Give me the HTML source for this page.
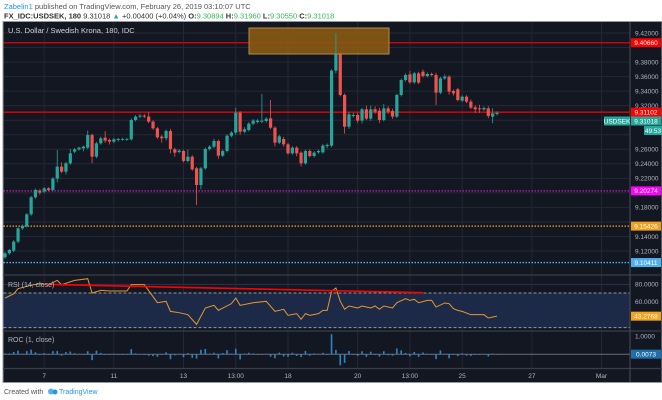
<!DOCTYPE html>
<html><head><meta charset="utf-8">
<style>
html,body{margin:0;padding:0;background:#fff;width:662px;height:400px;overflow:hidden;font-family:"Liberation Sans",sans-serif}
svg{display:block}
</style></head>
<body>
<svg id="chart" width="662" height="400" viewBox="0 0 662 400" xmlns="http://www.w3.org/2000/svg" font-family="Liberation Sans, sans-serif">
  <g>
    <text x="4" y="9" font-size="7.5" fill="#555"><tspan fill="#2196f3">Zabelin1</tspan> published on TradingView.com, February 26, 2019 03:10:07 UTC</text>
    <text x="4" y="18.5" font-size="7.5" font-weight="bold" fill="#333">FX_IDC:USDSEK, 180 <tspan font-weight="normal">9.31018</tspan> <tspan fill="#26a69a">▲</tspan> <tspan font-weight="normal">+0.00400 (+0.04%)</tspan> O:<tspan fill="#2ebd4f" font-weight="normal">9.30894</tspan> H:<tspan fill="#2ebd4f" font-weight="normal">9.31960</tspan> L:<tspan fill="#2ebd4f" font-weight="normal">9.30550</tspan> C:<tspan fill="#2ebd4f" font-weight="normal">9.31018</tspan></text>
  </g>
  <rect x="3" y="21.5" width="659" height="361" fill="#131722" stroke="#9598a1" stroke-width="1"/>
  <g id="grid"></g>
  <rect x="3.5" y="293" width="626.5" height="34.7" fill="#1c2a48"/>
  <g id="hlines"></g>
  <rect x="249" y="28" width="140" height="26" fill="#8a5a12" fill-opacity="0.9" stroke="#b88a4a" stroke-width="1"/>
  <g id="candles"></g>
  <g id="rsi"></g>
  <g id="roc"></g>
  <g id="axes"></g>
  <text x="8" y="33" font-size="7.5" fill="#d1d4dc">U.S. Dollar / Swedish Krona, 180, IDC</text>
  <text x="8" y="287" font-size="7" fill="#b2b5be">RSI (14, close)</text>
  <text x="8" y="342" font-size="7" fill="#b2b5be">ROC (1, close)</text>
  <g>
    <text x="4" y="394" font-size="7" fill="#555">Created with</text>
    <circle cx="51" cy="391.5" r="3" fill="#5ab3e8"/><circle cx="55" cy="392" r="2.5" fill="#2196f3"/>
    <text x="59" y="394" font-size="7" fill="#2196f3">TradingView</text>
  </g>
</svg>
<script>
const opens=[9.1113,9.1168,9.1205,9.1329,9.1512,9.1544,9.1705,9.1939,9.2031,9.2017,9.2063,9.2040,9.2196,9.2361,9.2292,9.2407,9.2567,9.2599,9.2613,9.2622,9.2796,9.2498,9.2682,9.2760,9.2728,9.2705,9.2728,9.2737,9.2737,9.2737,9.3003,9.3049,9.3063,9.3049,9.2980,9.2888,9.2774,9.2751,9.2852,9.2599,9.2563,9.2576,9.2439,9.2498,9.2338,9.2108,9.2338,9.2604,9.2636,9.2714,9.2512,9.2576,9.2787,9.2829,9.3104,9.2842,9.2865,9.2952,9.2975,9.2980,9.2989,9.3026,9.2897,9.2691,9.2741,9.2668,9.2544,9.2622,9.2553,9.2407,9.2576,9.2507,9.2558,9.2558,9.2645,9.2650,9.3682,9.3907,9.3347,9.2911,9.3058,9.3072,9.2994,9.3150,9.3021,9.3150,9.3131,9.3003,9.3163,9.3127,9.3049,9.3347,9.3553,9.3631,9.3521,9.3645,9.3668,9.3608,9.3636,9.3622,9.3379,9.3576,9.3599,9.3402,9.3425,9.3269,9.3324,9.3255,9.3177,9.3163,9.3150,9.3163,9.3049,9.3085];
const closes=[9.1168,9.1214,9.1329,9.1512,9.1544,9.1705,9.1939,9.2040,9.2003,9.2063,9.2040,9.2196,9.2361,9.2292,9.2407,9.2544,9.2599,9.2622,9.2636,9.2796,9.2498,9.2682,9.2751,9.2719,9.2705,9.2737,9.2741,9.2741,9.2741,9.3003,9.3049,9.3063,9.3049,9.2980,9.2888,9.2764,9.2751,9.2852,9.2604,9.2553,9.2581,9.2439,9.2498,9.2324,9.2108,9.2338,9.2604,9.2636,9.2714,9.2512,9.2576,9.2787,9.2829,9.3104,9.2842,9.2875,9.2952,9.2994,9.2994,9.2994,9.3021,9.2897,9.2691,9.2778,9.2668,9.2544,9.2622,9.2544,9.2407,9.2576,9.2507,9.2553,9.2576,9.2650,9.2659,9.3682,9.3907,9.3347,9.2911,9.3081,9.3072,9.2994,9.3150,9.3021,9.3150,9.3118,9.3003,9.3163,9.3118,9.3049,9.3347,9.3553,9.3622,9.3521,9.3645,9.3517,9.3608,9.3636,9.3622,9.3379,9.3576,9.3599,9.3393,9.3370,9.3278,9.3324,9.3255,9.3173,9.3150,9.3150,9.3168,9.3058,9.3094,9.3102];
const wickUp=[20,15,20,15,20,15,20,20,20,15,15,20,230,60,20,60,20,15,15,60,20,20,25,90,20,20,15,15,15,20,20,20,20,60,20,20,20,20,30,20,20,20,100,20,20,20,20,20,30,20,20,20,20,70,20,30,20,20,20,367,20,252,20,20,30,20,20,20,20,20,20,20,20,20,20,20,289,20,20,30,30,30,20,50,50,40,40,60,30,30,20,20,20,50,20,20,30,20,20,30,20,30,20,20,20,20,20,30,30,50,20,30,70,20];
const wickDn=[20,20,20,20,20,20,20,20,30,20,20,20,50,20,40,20,20,20,40,20,90,20,20,30,40,20,20,20,20,20,20,20,20,20,20,20,60,30,60,55,20,20,20,20,275,60,20,20,20,40,20,20,20,30,40,20,20,20,20,20,20,20,50,20,30,20,20,40,40,20,20,20,20,20,30,20,40,20,95,30,20,30,40,20,30,30,40,20,30,30,20,20,20,20,20,20,20,20,20,170,20,20,40,30,20,20,20,20,50,50,20,30,90,20];
const rsiIdx=[0,2,3,6,8,10,12,13,16,19,20,22,24,28,29,32,35,37,38,40,42,44,46,48,49,52,53,54,57,60,62,64,65,67,68,69,70,72,73,74,75,76,77,78,79,81,82,84,85,86,87,89,90,92,93,94,95,97,98,99,101,102,103,104,105,107,110,111,113];
const rsiVal=[64.2,69,75,79,80.8,79.6,84.6,79.6,84.6,86.5,70,73,72.3,72.3,79.6,79.6,58.8,60.4,48.8,47.3,45,33.8,52.7,55.8,50,57.7,64.2,55.8,58.8,60.4,48.8,51.2,44.2,46.2,39.6,46.2,44.2,46.2,50,50,71.9,75.8,60.4,51.2,55,52.7,55,52.7,55,51.2,55,52.7,58.8,63.5,61.5,62.7,58.8,61.5,61.5,53.8,58.5,57.7,51.9,50,48.8,45,45,41.2,43.3];
const rocVal=[0.05,0.05,0.125,0.2,0.035,0.175,0.255,0.11,-0.04,0.065,-0.025,0.17,0.18,-0.075,0.125,0.15,0.06,0.025,0.015,0.17,-0.32,0.2,0.075,-0.035,-0.015,0.035,0.005,0,0,0.28,0.05,0.015,-0.015,-0.075,-0.1,-0.135,-0.015,0.11,-0.27,-0.055,0.03,-0.155,0.065,-0.19,-0.235,0.25,0.29,0.035,0.085,-0.22,0.07,0.23,0.045,0.3,-0.28,0.035,0.085,0.045,0,0,0.03,-0.135,-0.22,0.095,-0.12,-0.135,0.085,-0.085,-0.15,0.18,-0.075,0.05,0.025,0.08,0.01,1.1,0.24,-0.6,-0.47,0.18,-0.01,-0.085,0.17,-0.14,0.14,-0.035,-0.125,0.17,-0.05,-0.075,0.32,0.22,0.075,-0.11,0.13,-0.14,0.1,0.03,-0.015,-0.26,0.21,0.025,-0.22,-0.025,-0.1,0.05,-0.075,-0.09,-0.025,0,0.02,-0.12,0.04,0.01];
const priceTicks=[9.42,9.38,9.36,9.34,9.32,9.30,9.26,9.24,9.22,9.18,9.14,9.12];
const priceGrid=[9.42,9.40,9.38,9.36,9.34,9.32,9.30,9.28,9.26,9.24,9.22,9.20,9.18,9.16,9.14,9.12];
const timeLabels=["7","11","13","13:00","18","20","13:00","25","27","Mar"];
const timeLabelBar=[9,25,41,53,65,81,93,105,121,137];
const levelPrices=[9.40660,9.31102,9.20274,9.15426,9.10411];
const levelColors=["#e00","#e00","#c020c0","#f0a020","#4fb0f0"];
const rsiTrendStart=[9,80];
const rsiTrendEnd=[96,70.4];

const NS="http://www.w3.org/2000/svg";
const PL=3.5, PR=630;
function px(i){return 5+i*4.354;}
function py(p){return 33+(9.42-p)*726.7;}
function ry(v){return 293+(70-v)*0.867;}
function cy(v){return 354.3-v*18.3;}
function mk(tag,attrs,parent){const e=document.createElementNS(NS,tag);for(const k in attrs)e.setAttribute(k,attrs[k]);parent.appendChild(e);return e;}

const grid=document.getElementById('grid');
priceGrid.forEach(p=>{const l=mk('line',{x1:PL,x2:PR,y1:py(p),y2:py(p),stroke:'#242835','stroke-width':1},grid);

});
[80,60,40].forEach(v=>{const l=mk('line',{x1:PL,x2:PR,y1:ry(v),y2:ry(v),stroke:'#2a3550','stroke-width':1},grid);

});
timeLabelBar.forEach(b=>{const x=px(b);const l=mk('line',{x1:x,x2:x,y1:22,y2:368,stroke:'#242835','stroke-width':1},grid);

});

const hl=document.getElementById('hlines');
levelPrices.forEach((p,k)=>{const y=py(p);
const l=mk('line',{x1:PL,x2:PR,y1:y,y2:y,stroke:levelColors[k],'stroke-width':k<2?1.3:1.3,'stroke-dasharray':k<2?'none':'1.5,1.5'},hl);

});

const cg=document.getElementById('candles');
opens.forEach((o,i)=>{const c=closes[i];const up=c>=o;const col=up?'#26a69a':'#ef5350';const x=px(i);
const hi=Math.max(o,c)+wickUp[i]/10000, lo=Math.min(o,c)-wickDn[i]/10000;
const w=mk('line',{x1:x,x2:x,y1:py(hi),y2:py(lo),stroke:col,'stroke-width':0.8},cg);


const t=py(Math.max(o,c)), b=py(Math.min(o,c));
const r=mk('rect',{x:x-1.6,y:t,width:3.2,height:Math.max(0.8,b-t),fill:col},cg);

});

const rg=document.getElementById('rsi');
[70,30].forEach(v=>{const l=mk('line',{x1:PL,x2:PR,y1:ry(v),y2:ry(v),stroke:'#9598a1','stroke-width':1,'stroke-dasharray':'3,2'},rg);

});
const rp=mk('polyline',{points:rsiIdx.map((b,k)=>px(b)+','+ry(rsiVal[k])).join(' '),fill:'none',stroke:'#e8962e','stroke-width':1},rg);


const tl=mk('line',{x1:px(rsiTrendStart[0]),y1:ry(rsiTrendStart[1]),x2:px(rsiTrendEnd[0]),y2:ry(rsiTrendEnd[1]),stroke:'#f00','stroke-width':1.6},rg);



const og=document.getElementById('roc');
const zl=mk('line',{x1:PL,x2:PR,y1:cy(0),y2:cy(0),stroke:'#6a6f7c','stroke-width':1},og);


rocVal.forEach((v,i)=>{const y0=cy(0),y1=cy(v);
const r=mk('rect',{x:px(i)-0.8,y:Math.min(y0,y1),width:1.6,height:Math.max(0.6,Math.abs(y1-y0)),fill:'#2b86c5'},og);

});

const ax=document.getElementById('axes');
[[22,275],[275,331],[331,368.5],[368.5,382]].forEach(s=>{});
[275,331,368.5].forEach(y=>{const l=mk('line',{x1:3,x2:662,y1:y,y2:y,stroke:'#3a3e4a','stroke-width':1.2},ax);

});
const al=mk('line',{x1:PR,x2:PR,y1:22,y2:382,stroke:'#4a4e5a','stroke-width':1},ax);


function txt(x,y,s,attrs,name){const t=mk('text',Object.assign({x:x,y:y,'font-size':6.5,fill:'#b2b5be'},attrs||{}),ax);t.textContent=s;

return t;}
priceTicks.forEach(p=>txt(635,py(p)+2.3,p.toFixed(5),{},'price-tick'));
txt(635,ry(80)+2.3,'80.0000',{},'rsi-tick');
txt(635,ry(60)+2.3,'60.0000',{},'rsi-tick');
txt(635,cy(1)+2.3,'1.0000',{},'roc-tick');
timeLabels.forEach((s,k)=>txt(px(timeLabelBar[k]),378,s,{'text-anchor':'middle'},'time-tick'));
function badge(y,bg,s,fg,name,x,w){const r=mk('rect',{x:x||631,y:y-4.5,width:w||30,height:9,fill:bg},ax);


txt((x||631)+((w||30)/2),y+2.3,s,{fill:fg||'#fff','text-anchor':'middle'},name);}
levelPrices.forEach((p,k)=>badge(py(p),levelColors[k]==='#e00'?'#f00':(levelColors[k]==='#c020c0'?'#f0f':levelColors[k]),p.toFixed(5),'#fff','level-label'));
badge(121,'#26a69a','9.31018','#fff','last-price-label');
badge(121,'#26a69a','USDSEK','#fff','symbol-label',604,26);
badge(130.5,'#26a69a','49:53','#fff','countdown-label',644,18);
badge(ry(43.28),'#f7a21b','43.2768','#fff','rsi-value-label');
badge(cy(0.0073),'#1e6fa8','0.0073','#fff','roc-value-label');
</script>
</body></html>
